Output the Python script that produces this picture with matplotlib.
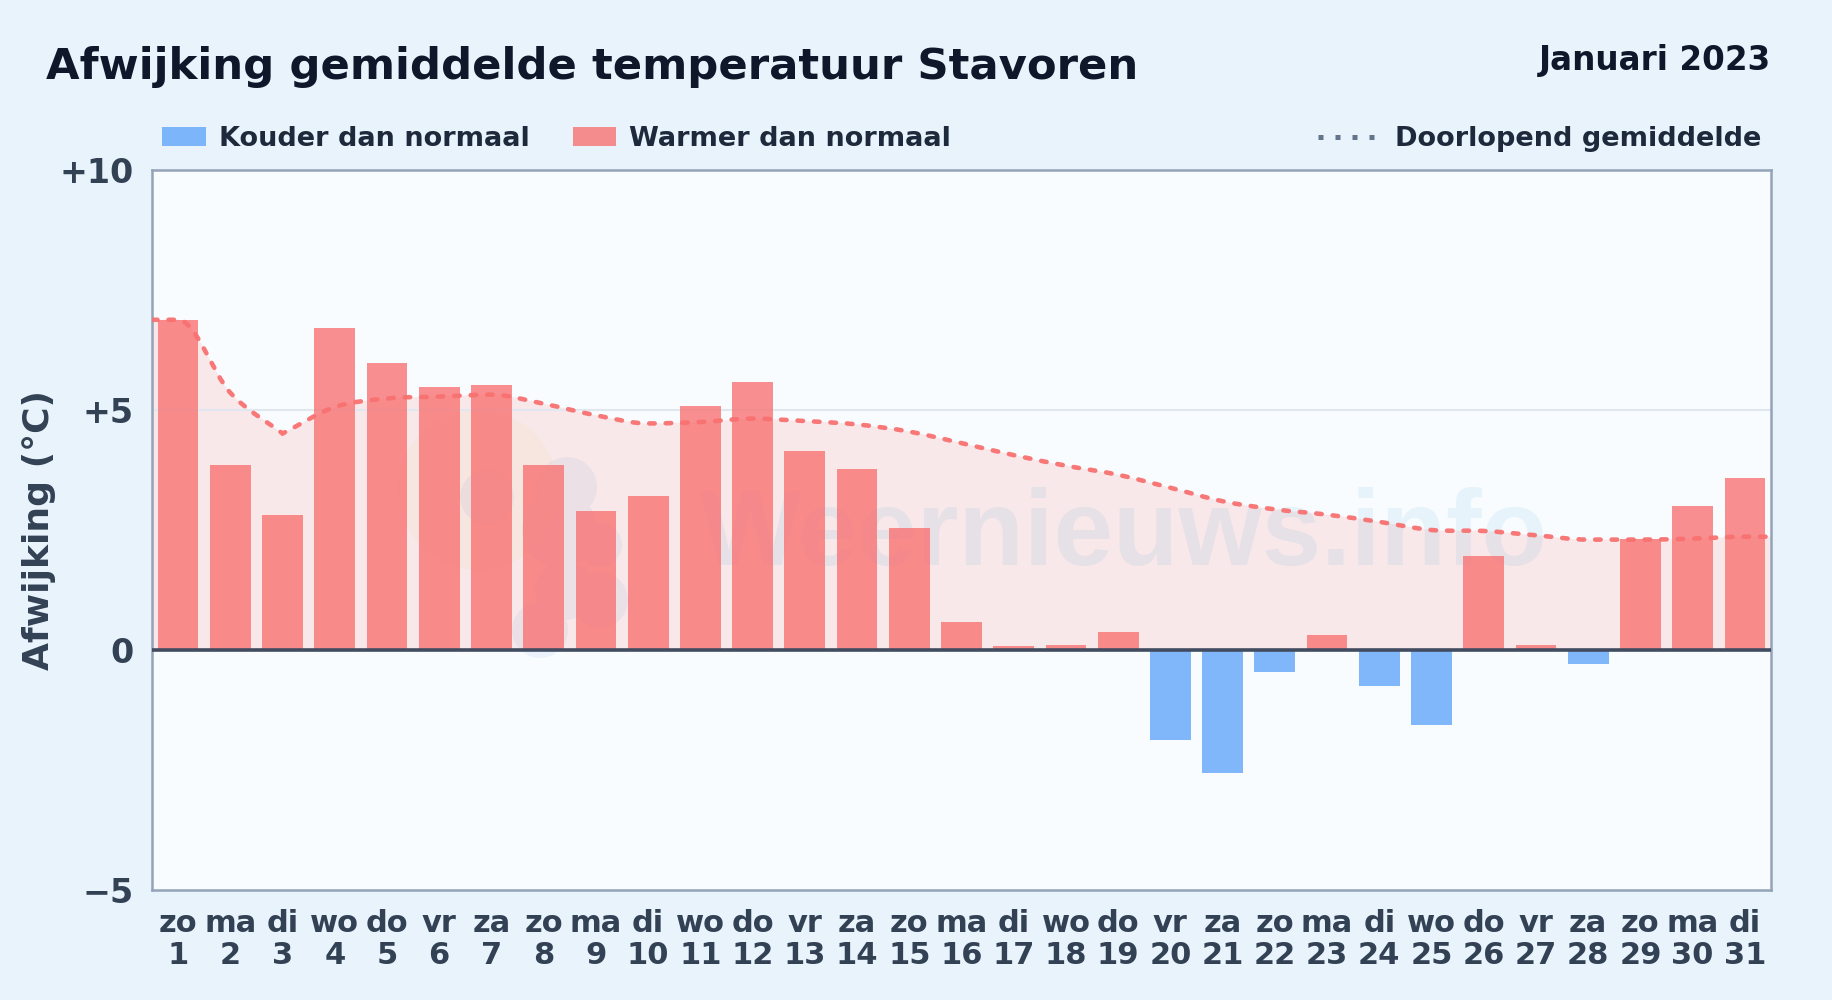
"""Afwijking gemiddelde temperatuur Stavoren, januari 2023."""
import numpy as np
import matplotlib
matplotlib.use("Agg")
import matplotlib.pyplot as plt
from matplotlib.patches import PathPatch, Rectangle
from matplotlib.path import Path
from matplotlib.transforms import Affine2D

WIDTH, HEIGHT = 1832, 1000

days = list(range(1, 32))
weekdays = ["zo", "ma", "di", "wo", "do", "vr", "za"] * 4 + ["zo", "ma", "di"]
deviation = [6.88, 3.85, 2.81, 6.71, 5.98, 5.48, 5.52, 3.85, 2.90, 3.21, 5.08,
             5.58, 4.15, 3.77, 2.54, 0.58, 0.08, 0.10, 0.38, -1.88, -2.56,
             -0.46, 0.31, -0.75, -1.56, 1.96, 0.10, -0.29, 2.32, 3.00, 3.59]
running_mean = [6.88, 5.36, 4.51, 5.06, 5.24, 5.28, 5.32, 5.13, 4.89, 4.72,
                4.75, 4.82, 4.77, 4.70, 4.55, 4.31, 4.06, 3.84, 3.65, 3.38,
                3.10, 2.93, 2.82, 2.67, 2.50, 2.48, 2.39, 2.30, 2.30, 2.32,
                2.36]
y_ticks = [-5, 0, 5, 10]
y_labels = ["\u22125", "0", "+5", "+10"]

RED = "#f87171"
BLUE = "#60a5fa"
DARK = "#0f172a"
LEGEND_TEXT = "#1e293b"
AXIS_TEXT = "#334155"


def px(x, y):
    """Pixel position, top-left origin, to figure fraction."""
    return x / WIDTH, 1 - y / HEIGHT


def spline_path(xs, ys, corners=(), tension=0.45):
    """Cubic path through the points; indices in corners keep a sharp kink."""
    xs, ys = np.asarray(xs, float), np.asarray(ys, float)
    verts, codes = [(xs[0], ys[0])], [Path.MOVETO]
    sec = np.diff(ys) / np.diff(xs)
    slope = np.gradient(ys, xs, edge_order=1)
    slope[1:-1][sec[:-1] * sec[1:] <= 0] = 0
    for i in range(len(xs) - 1):
        h = (xs[i + 1] - xs[i]) * tension * 0.75
        m0 = sec[i] if i in corners else slope[i]
        m1 = sec[i] if i + 1 in corners else slope[i + 1]
        verts += [(xs[i] + h, ys[i] + m0 * h),
                  (xs[i + 1] - h, ys[i + 1] - m1 * h),
                  (xs[i + 1], ys[i + 1])]
        codes += [Path.CURVE4] * 3
    return verts, codes


def blob(circles):
    """Union of circles given in reference pixels."""
    parts = [Path.circle((x, y), r) for x, y, r in circles]
    return Path.make_compound_path(*parts)


fig = plt.figure(figsize=(WIDTH / 100, HEIGHT / 100), dpi=100, facecolor="#e8f3fc")
plt.rcParams["font.family"] = "DejaVu Sans"

left, right, top, bottom = 152, 1771, 170, 890
ax = fig.add_axes([left / WIDTH, 1 - bottom / HEIGHT,
                   (right - left) / WIDTH, (bottom - top) / HEIGHT])
ax.set_facecolor("#f8fcff")
ax.set_xlim(0.5, 31.5)
ax.set_ylim(-5, 10)

# running mean runs on to both plot edges
line_x = [0.5] + days + [31.5]
line_y = [running_mean[0]] + running_mean + [running_mean[-1]]
verts, codes = spline_path(line_x, line_y, corners=(3,))
area = verts + [(31.5, 0), (0.5, 0), (0.5, line_y[0])]
area_codes = codes + [Path.LINETO, Path.LINETO, Path.CLOSEPOLY]
ax.add_patch(PathPatch(Path(area, area_codes), facecolor=RED, alpha=0.14,
                       edgecolor="none", zorder=1))

ax.axhline(5, color="#e1e7ee", lw=1.5, zorder=1.5)

bar_colors = [RED if v >= 0 else BLUE for v in deviation]
ax.bar(days, deviation, width=0.78, color=bar_colors, alpha=0.79, zorder=2)
ax.axhline(0, color="#414c60", lw=2.6, zorder=3)

stroke = PathPatch(Path(verts, codes), facecolor="none", edgecolor=RED, lw=3.3,
                   linestyle=(0, (1.2, 2.4)), capstyle="round", alpha=0.95, zorder=4)
ax.add_patch(stroke)

# watermark sits under the bars: sun and cloud logo, then the site name
to_pixels = Affine2D().scale(1, -1).translate(0, HEIGHT)
ax.add_patch(PathPatch(blob([(478, 490, 80)]), transform=to_pixels,
                       facecolor="#f5c542", edgecolor="none", alpha=0.06, zorder=1.2))
cloud = blob([(487, 497, 27), (567, 487, 30), (560, 530, 38), (600, 545, 22),
              (540, 630, 28), (600, 600, 28), (565, 590, 30)])
ax.add_patch(PathPatch(cloud, transform=to_pixels, facecolor="#5a78c8",
                       edgecolor="none", alpha=0.07, zorder=1.3))
ax.text(1124, HEIGHT - 565, "Weernieuws.info", transform=Affine2D(), ha="center",
        va="baseline", fontsize=77, family="Liberation Sans", fontweight="bold",
        color="#2a95d0", alpha=0.085, zorder=1.4)

for spine in ax.spines.values():
    spine.set_edgecolor("#94a3b8")
    spine.set_linewidth(1.8)

ax.set_yticks(y_ticks, y_labels)
ax.set_xticks(days, [f"{w}\n{d}" for w, d in zip(weekdays, days)])
ax.tick_params(axis="y", length=0, pad=13, labelsize=24, labelcolor=AXIS_TEXT)
ax.tick_params(axis="x", length=0, pad=13.5, labelsize=22, labelcolor=AXIS_TEXT)
for label in ax.get_xticklabels():
    label.set_fontweight("bold")
    label.set_linespacing(1.12)
for label in ax.get_yticklabels():
    label.set_fontweight("bold")

fig.text(*px(39, 530), "Afwijking (°C)", rotation=90, ha="center", va="center",
         fontsize=26, fontweight="bold", color=AXIS_TEXT)
fig.text(*px(46, 79), "Afwijking gemiddelde temperatuur Stavoren", ha="left",
         va="baseline", fontsize=31.24, fontweight="bold", color=DARK)
fig.text(*px(1771, 70), "Januari 2023", ha="right", va="baseline", fontsize=23.5,
         fontweight="bold", color=DARK)

# legend is placed by hand, the line entry sits far right
for x0, x1, color, name in [(162, 206, BLUE, "Kouder dan normaal"),
                            (573, 616, RED, "Warmer dan normaal")]:
    fig.add_artist(Rectangle(px(x0, 146), (x1 - x0) / WIDTH, 19 / HEIGHT,
                             transform=fig.transFigure, facecolor=color, alpha=0.79,
                             edgecolor="none"))
    fig.text(*px(x1 + 13, 136), name, ha="left", va="center_baseline", fontsize=19.5,
             fontweight="bold", color=LEGEND_TEXT)
fig.add_artist(plt.Line2D([1318 / WIDTH, 1374 / WIDTH], [1 - 137 / HEIGHT] * 2,
                          transform=fig.transFigure, color="#64748b", lw=3.6,
                          linestyle=(0, (1, 2.4))))
fig.text(*px(1395, 136), "Doorlopend gemiddelde", ha="left", va="center_baseline",
         fontsize=19.5, fontweight="bold", color=LEGEND_TEXT)

fig.savefig("out.png", dpi=100, facecolor=fig.get_facecolor())
